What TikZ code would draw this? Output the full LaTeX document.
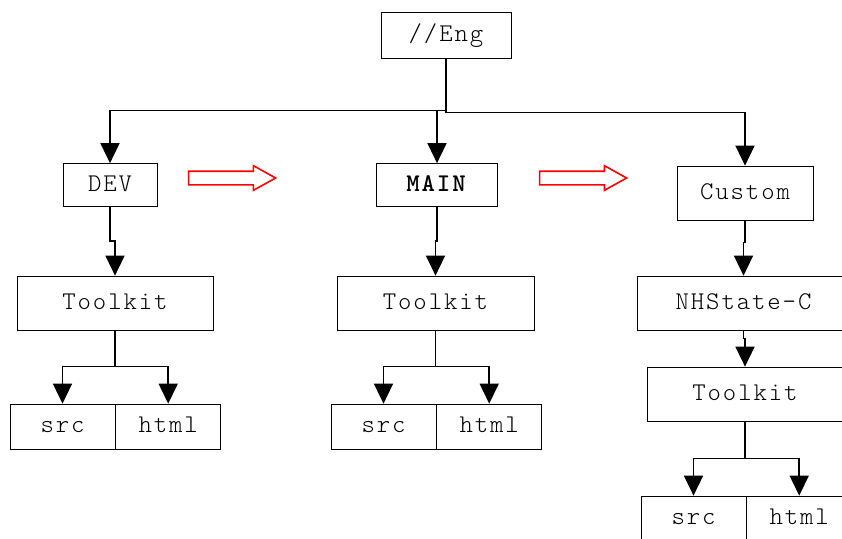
\documentclass[tikz,border=0pt]{standalone}
\usepackage{fontspec}
\setmonofont{Latin Modern Mono Light}[LetterSpace=7.5]
\usetikzlibrary{positioning,arrows.meta,shapes.arrows}

\begin{document}
\begin{tikzpicture}[
    x=1pt, y=-1pt,
    box/.style={rectangle, draw, line width=0.7pt, inner sep=0pt,
        text height=15pt, text depth=3pt,
        font=\ttfamily\fontsize{25.5}{28}\selectfont},
    leafbox/.style={box, minimum width=105pt, minimum height=45pt},
    treeline/.style={line width=1.5pt},
    treearrow/.style={treeline, -{Triangle[width=19pt,length=20pt]}},
    moveto/.style={single arrow, draw=red, line width=1.6pt, inner sep=6pt,
        minimum height=87pt, single arrow head extend=5.5pt,
        single arrow tip angle=58}
]
    \useasboundingbox (0,0) rectangle (842,538);

    % top level
    \node[box, minimum width=130pt, minimum height=46pt] (eng) at (446,35) {//Eng};
    \node[box, minimum width=94pt, minimum height=43pt] (dev) at (110,185) {DEV};
    \node[box, minimum width=121pt, minimum height=43pt] (main) at (437,185) {\textbf{MAIN}};
    \node[box, minimum width=136pt, minimum height=54pt] (custom) at (745,193) {Custom};

    % promotion arrows
    \node[moveto] (move1) at (226,178) {};
    \node[moveto] (move2) at (577,178) {};

    % second level
    \node[box, minimum width=196pt, minimum height=54pt] (tk1) at (115,303) {Toolkit};
    \node[box, minimum width=197pt, minimum height=54pt] (tk2) at (435.5,303) {Toolkit};
    \node[box, minimum width=213pt, minimum height=54pt] (nhs) at (743.5,303) {NHState-C};
    \node[box, minimum width=196pt, minimum height=54pt] (tk3) at (745,394) {Toolkit};

    % leaves
    \node[leafbox] (src1) at (62.5,426.5) {src};
    \node[leafbox, right=0pt of src1] (html1) {html};
    \node[leafbox] (src2) at (383.5,426.5) {src};
    \node[leafbox, right=0pt of src2] (html2) {html};
    \node[leafbox] (src3) at (693.5,518.5) {src};
    \node[leafbox, right=0pt of src3] (html3) {html};

    % connectors
    \draw[treeline] (eng.south) -- ++(0,52) coordinate (hub);
    \draw[treearrow] (hub) -| (dev.north);
    \draw[treearrow] (hub) -| (main.north);
    \draw[treearrow] (hub) -- ++(0,2) -| (custom.north);

    \draw[treearrow] (dev.south) -- ++(0,34) -| (tk1.north);
    \draw[treearrow] (main.south) -- ++(0,34) -| (tk2.north);
    \draw[treearrow] (custom.south) -- ++(0,22) -| (nhs.north);
    \draw[treearrow] (nhs.south) -- ++(0,8) -| (tk3.north);

    \draw[treeline] (tk1.south) -- ++(0,36) coordinate (split1);
    \draw[treearrow] (split1) -| (src1.north);
    \draw[treearrow] (split1) -| (html1.north);
    \draw[treeline] (tk2.south) -- ++(0,36) coordinate (split2);
    \draw[treearrow] (split2) -| (src2.north);
    \draw[treearrow] (split2) -| (html2.north);
    \draw[treeline] (tk3.south) -- ++(0,37) coordinate (split3);
    \draw[treearrow] (split3) -| (src3.north);
    \draw[treearrow] (split3) -| (html3.north);
\end{tikzpicture}
\end{document}
